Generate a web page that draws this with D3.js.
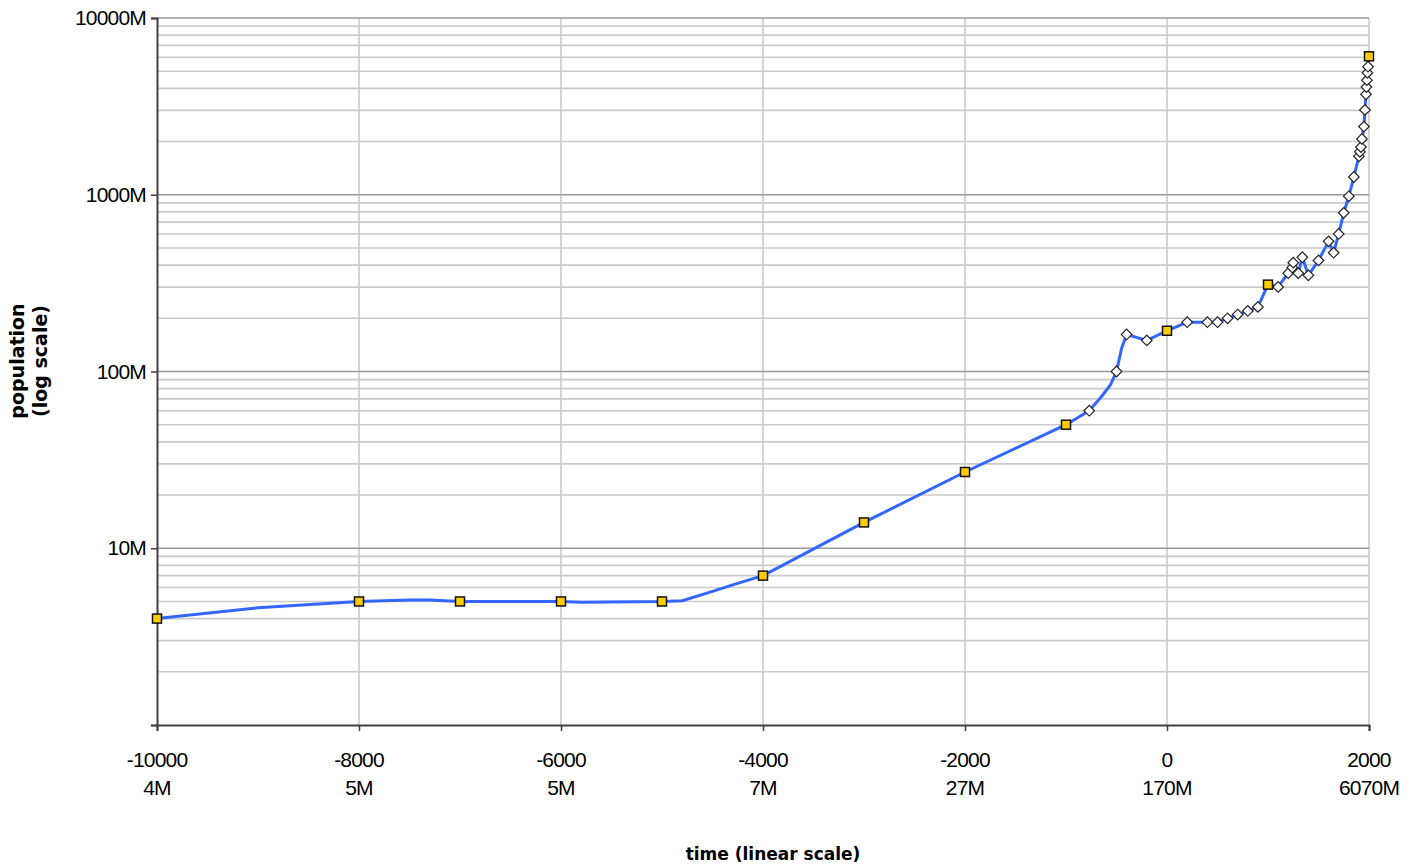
<!DOCTYPE html>
<html>
<head>
<meta charset="utf-8">
<script src="https://cdn.jsdelivr.net/npm/d3@7"></script>
<style>
  body { margin: 0; background: #ffffff; }
  svg { display: block; }
</style>
</head>
<body>
<div id="chart"></div>
<script>
// Milestone estimates (yellow squares), millions
const milestoneYears = [-10000, -8000, -7000, -6000, -5000, -4000, -3000, -2000, -1000, 0, 1000, 2000];
const milestonePop = [4, 5, 5, 5, 5, 7, 14, 27, 50, 170, 310, 6070];

// Other estimates (white diamonds), millions
const estimateYears = [-770, -500, -400, -200, 200, 400, 500, 600, 700, 800, 900, 1100, 1200, 1240, 1250, 1300, 1340, 1400, 1500, 1600, 1650, 1700, 1750, 1800, 1850, 1900, 1910, 1920, 1930, 1950, 1960, 1970, 1975, 1980, 1985, 1990];
const estimatePop = [60, 100, 162, 150, 190, 190, 190, 200, 210, 220, 232, 301, 360, 387, 413, 360, 443, 350, 425, 545, 470, 600, 790, 980, 1260, 1650, 1750, 1860, 2070, 2430, 3020, 3700, 4070, 4450, 4900, 5300];

// Extra points where the drawn curve bends between markers, millions
const curveYears = [-9000, -7500, -7300, -5800, -4800, -4500, -4300, -650, -560, -450];
const curvePop = [4.6, 5.1, 5.1, 4.95, 5.05, 5.7, 6.2, 72, 84, 135];

// Axis ticks
const xTickYears = [-10000, -8000, -6000, -4000, -2000, 0, 2000];
const xTickPop = ['4M', '5M', '5M', '7M', '27M', '170M', '6070M'];
const yMajorTicks = [1, 10, 100, 1000, 10000];
const yTickLabels = ['', '10M', '100M', '1000M', '10000M'];

const W = 1415, H = 868;
const plot = { left: 157, right: 1369, top: 18, bottom: 725 };

const svg = d3.select('#chart').append('svg')
  .attr('width', W)
  .attr('height', H);

const x = d3.scaleLinear().domain([-10000, 2000]).range([plot.left, plot.right]);
const y = d3.scaleLog().domain([1, 10000]).range([plot.bottom, plot.top]);

// minor log grid lines
const minorTicks = [];
yMajorTicks.slice(0, -1).forEach(d => {
  for (let k = 2; k <= 9; k++) minorTicks.push(d * k);
});

const grid = svg.append('g');
grid.selectAll('.minor')
  .data(minorTicks)
  .join('line')
  .attr('x1', plot.left).attr('x2', plot.right)
  .attr('y1', d => y(d)).attr('y2', d => y(d))
  .attr('stroke', '#cacaca')
  .attr('stroke-width', 1.6);

// vertical grid lines
grid.selectAll('.vgrid')
  .data(xTickYears.slice(1))
  .join('line')
  .attr('x1', d => x(d)).attr('x2', d => x(d))
  .attr('y1', plot.top).attr('y2', plot.bottom)
  .attr('stroke', '#cacaca')
  .attr('stroke-width', 1.6);

// major grid lines
grid.selectAll('.major')
  .data(yMajorTicks.slice(1))
  .join('line')
  .attr('x1', plot.left).attr('x2', plot.right)
  .attr('y1', d => y(d)).attr('y2', d => y(d))
  .attr('stroke', '#9a9a9a')
  .attr('stroke-width', 1.6);

// axes
const tickFont = '"Liberation Sans", Arial, sans-serif';

const yAxis = svg.append('g')
  .attr('transform', `translate(${plot.left},0)`)
  .call(d3.axisLeft(y).tickValues(yMajorTicks).tickSize(6).tickPadding(5)
    .tickFormat((d, i) => yTickLabels[i]));
yAxis.select('.domain').attr('stroke', '#404040').attr('stroke-width', 2);
yAxis.selectAll('.tick line').attr('stroke', '#404040').attr('stroke-width', 1.5);
yAxis.selectAll('.tick text')
  .attr('fill', '#000')
  .style('font-family', tickFont)
  .style('font-size', '21px')
  .style('letter-spacing', '-0.8px');

const xAxis = svg.append('g')
  .attr('transform', `translate(0,${plot.bottom})`)
  .call(d3.axisBottom(x).tickValues(xTickYears).tickSize(6).tickFormat(''));
xAxis.select('.domain').attr('stroke', '#404040').attr('stroke-width', 2);
xAxis.selectAll('.tick line').attr('stroke', '#404040').attr('stroke-width', 1.5);

// two-line x tick labels: year and population
const xLabels = svg.append('g');
xTickYears.forEach((yr, i) => {
  const t = xLabels.append('text')
    .attr('x', x(yr))
    .attr('text-anchor', 'middle')
    .style('font-family', tickFont)
    .style('font-size', '21px')
    .style('letter-spacing', '-0.8px')
    .attr('fill', '#000');
  t.append('tspan').attr('x', x(yr)).attr('y', 767).text(yr);
  t.append('tspan').attr('x', x(yr)).attr('y', 795).text(xTickPop[i]);
});

// axis titles
svg.append('text')
  .attr('x', 773)
  .attr('y', 860)
  .attr('text-anchor', 'middle')
  .style('font-family', '"DejaVu Sans", Verdana, sans-serif')
  .style('font-weight', 'bold')
  .style('font-size', '17px')
  .text('time (linear scale)');

const yTitle = svg.append('text')
  .attr('transform', 'translate(0,361) rotate(-90)')
  .attr('text-anchor', 'middle')
  .style('font-family', '"DejaVu Sans", Verdana, sans-serif')
  .style('font-weight', 'bold')
  .style('font-size', '19px');
yTitle.append('tspan').attr('x', 0).attr('y', 24).text('population');
yTitle.append('tspan').attr('x', 0).attr('y', 47).text('(log scale)');

// the population curve passes through every marker
const linePoints = []
  .concat(milestoneYears.map((d, i) => ({ year: d, pop: milestonePop[i] })))
  .concat(estimateYears.map((d, i) => ({ year: d, pop: estimatePop[i] })))
  .concat(curveYears.map((d, i) => ({ year: d, pop: curvePop[i] })))
  .sort((a, b) => a.year - b.year);

const line = d3.line()
  .x(d => x(d.year))
  .y(d => y(d.pop));

svg.append('path')
  .datum(linePoints)
  .attr('d', line)
  .attr('fill', 'none')
  .attr('stroke', '#3366ff')
  .attr('stroke-width', 3)
  .attr('stroke-linejoin', 'round');

// diamonds
svg.selectAll('.estimate')
  .data(estimateYears)
  .join('path')
  .attr('class', 'estimate')
  .attr('d', d3.symbol().type(d3.symbolSquare).size(56))
  .attr('transform', (d, i) => `translate(${x(d)},${y(estimatePop[i])}) rotate(45)`)
  .attr('fill', '#ffffff')
  .attr('stroke', '#222')
  .attr('stroke-width', 1.2);

// squares
svg.selectAll('.milestone')
  .data(milestoneYears)
  .join('rect')
  .attr('class', 'milestone')
  .attr('x', d => x(d) - 4.5)
  .attr('y', (d, i) => y(milestonePop[i]) - 4.5)
  .attr('width', 9)
  .attr('height', 9)
  .attr('fill', '#ffcc00')
  .attr('stroke', '#111')
  .attr('stroke-width', 1.5);
</script>
</body>
</html>
